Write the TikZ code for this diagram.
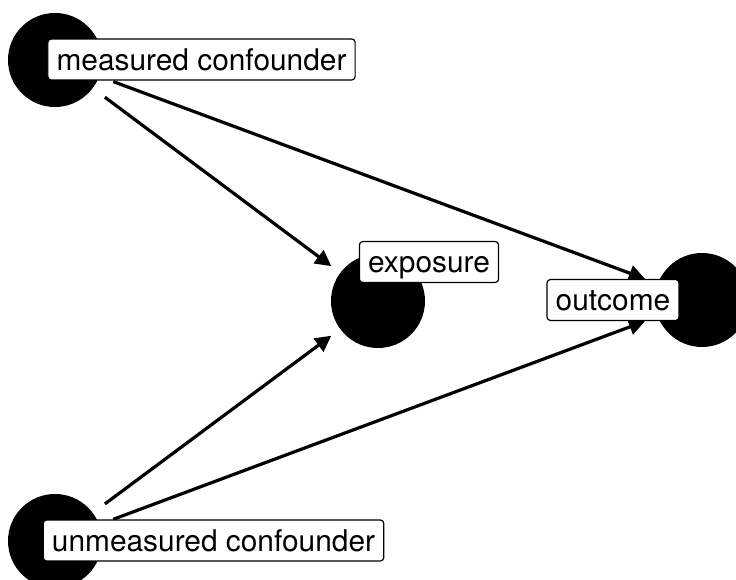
\documentclass[tikz,border=0pt]{standalone}
\usepackage{fontspec}
\setmainfont{TeX Gyre Heros}
\usetikzlibrary{arrows.meta}

\tikzset{every picture/.style={line width=0.75pt}}

\begin{document}
\begin{tikzpicture}[x=0.75pt,y=0.75pt,yscale=-1,xscale=1,
  dagdot/.style={circle,fill=black,draw=none,minimum size=70.5pt,inner sep=0pt},
  dagedge/.style={line width=2.4pt,-{Triangle[length=12pt,width=12pt]},shorten <=11pt,shorten >=8pt},
  daglabel/.style={draw=black,fill=white,line width=0.9pt,rounded corners=2.5pt,
    inner xsep=6.5pt,inner ysep=4.6pt,text height=19pt,text depth=2.5pt,
    font=\fontsize{22.4}{26}\selectfont}]
	\useasboundingbox (0,0) rectangle (736,580);
	\clip (0,0) rectangle (736,580);

	%Shape: Circle
	\node [dagdot] (measured) at (55,60) {};
	%Shape: Circle
	\node [dagdot] (exposure) at (378,301) {};
	%Shape: Circle
	\node [dagdot] (outcome) at (702,300) {};
	%Shape: Circle
	\node [dagdot] (unmeasured) at (55,541) {};

	%Straight Lines
	\draw [dagedge] (measured) -- (exposure);
	\draw [dagedge,shorten >=10pt] (measured) -- (outcome);
	\draw [dagedge] (unmeasured) -- (exposure);
	\draw [dagedge,shorten >=10pt] (unmeasured) -- (outcome);

	% Text Node
	\node [daglabel] (measuredlab) at (201.5,59.5) {measured confounder};
	% Text Node
	\node [daglabel] (exposurelab) at (429,262) {exposure};
	% Text Node
	\node [daglabel] (outcomelab) at (613,300) {outcome};
	% Text Node
	\node [daglabel] (unmeasuredlab) at (213.5,540.5) {unmeasured confounder};
\end{tikzpicture}
\end{document}
